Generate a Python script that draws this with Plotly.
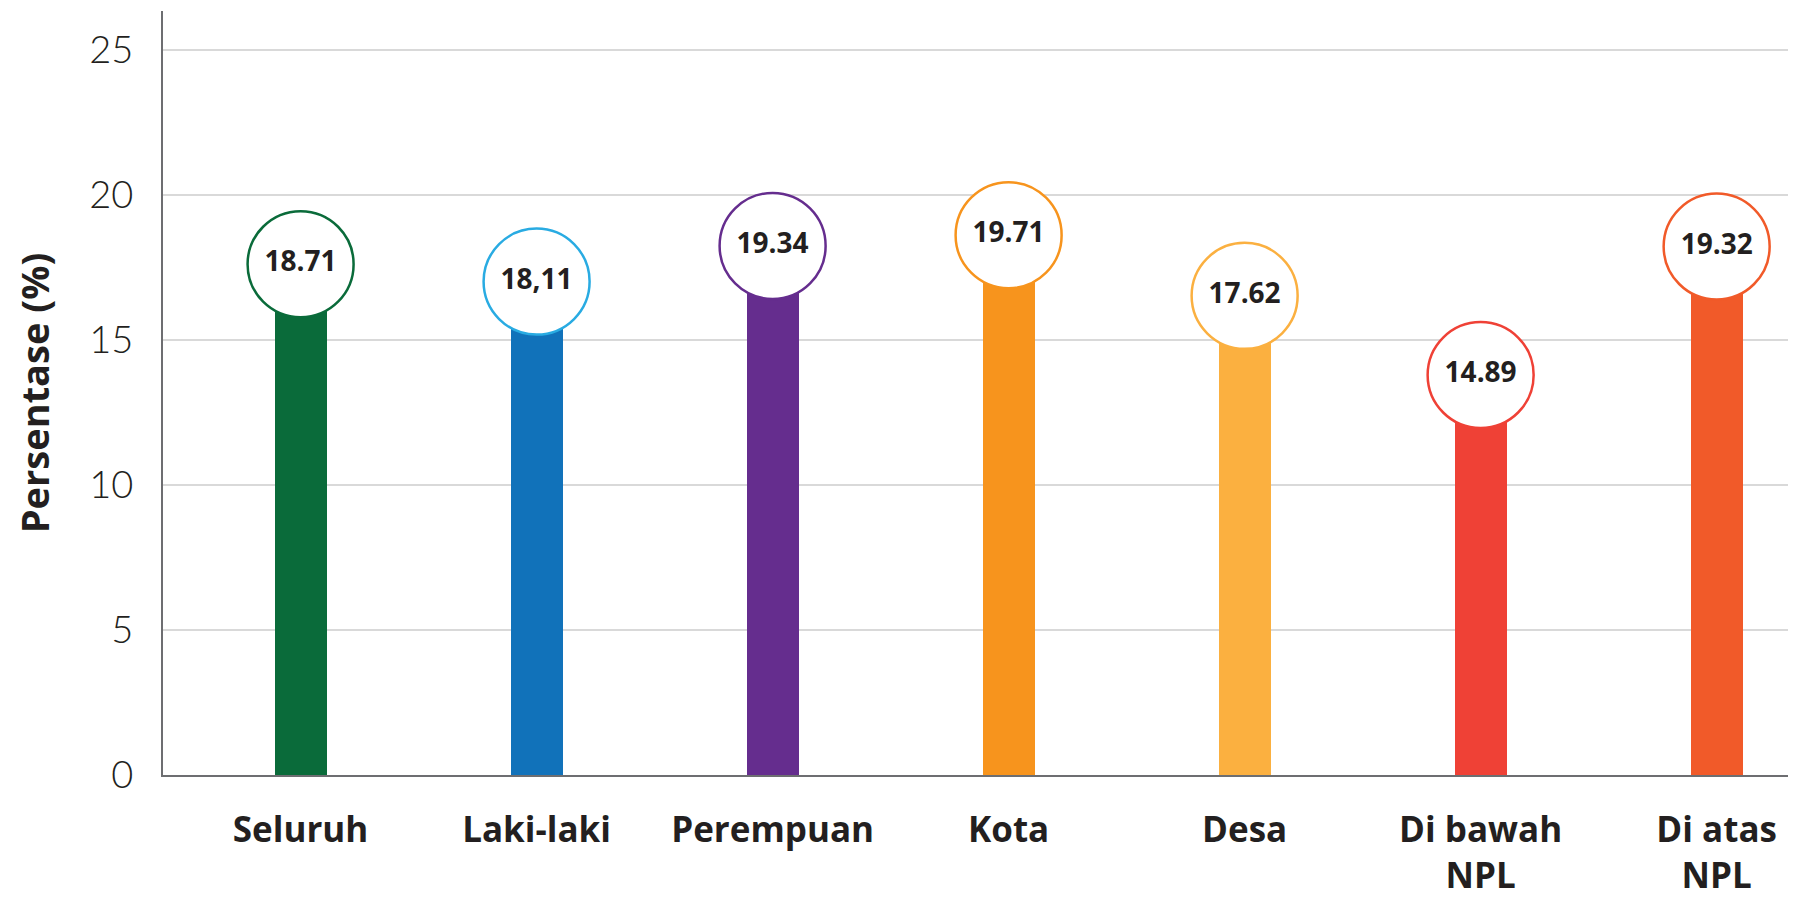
import plotly.graph_objects as go

categories = ["Seluruh", "Laki-laki", "Perempuan", "Kota", "Desa", "Di bawah<br>NPL", "Di atas<br>NPL"]
values = [18.71, 18.11, 19.34, 19.71, 17.62, 14.89, 19.32]
value_labels = ["18.71", "18,11", "19.34", "19.71", "17.62", "14.89", "19.32"]
bar_colors = ["#0a6b3a", "#1172ba", "#652d8e", "#f7941d", "#fbb040", "#ef4136", "#f15a29"]
ring_colors = ["#0a6b3a", "#29abe2", "#652d8e", "#f7941d", "#fbb040", "#ef4136", "#f15a29"]
y_ticks = [0, 5, 10, 15, 20, 25]

badge_drop = 1.1  # circle centred slightly below bar top
xi = list(range(len(categories)))

fig = go.Figure()
fig.add_trace(go.Bar(
    x=xi, y=values, width=0.22,
    marker=dict(color=bar_colors, line=dict(width=0)),
    hoverinfo="skip",
))
fig.add_trace(go.Scatter(
    x=xi, y=[v - badge_drop for v in values],
    mode="markers+text",
    marker=dict(size=106, color="white", line=dict(color=ring_colors, width=2.5)),
    text=value_labels, textposition="middle center",
    textfont=dict(family="Open Sans", size=28, color="#231f20", weight="bold"),
    cliponaxis=False,
    hoverinfo="skip",
))

fig.update_layout(
    width=1796, height=898,
    paper_bgcolor="white", plot_bgcolor="white",
    margin=dict(l=155, r=9, t=3, b=131),
    showlegend=False,
    bargap=0,
)
fig.update_xaxes(
    automargin=False,
    tickmode="array", tickvals=xi, ticktext=categories,
    range=[-0.583, 6.332],
    showline=True, linecolor="#6d6e71", linewidth=2,
    showgrid=False, ticks="",
    tickfont=dict(family="Open Sans", size=35, color="#231f20", weight="bold"),
    ticklabelstandoff=23,
)
fig.update_yaxes(
    automargin=False,
    range=[0, 26.34],
    tickmode="array", tickvals=y_ticks,
    showline=True, linecolor="#6d6e71", linewidth=2,
    showgrid=True, gridcolor="#d9d9d9", gridwidth=1.5,
    zeroline=False, ticks="",
    tickfont=dict(family="Lato", size=38, color="#231f20", weight=300),
    ticklabelstandoff=20,
    title=dict(text="Persentase (%)", font=dict(family="Open Sans", size=38, color="#231f20", weight="bold"), standoff=36),
)

fig.write_html("out.html")
